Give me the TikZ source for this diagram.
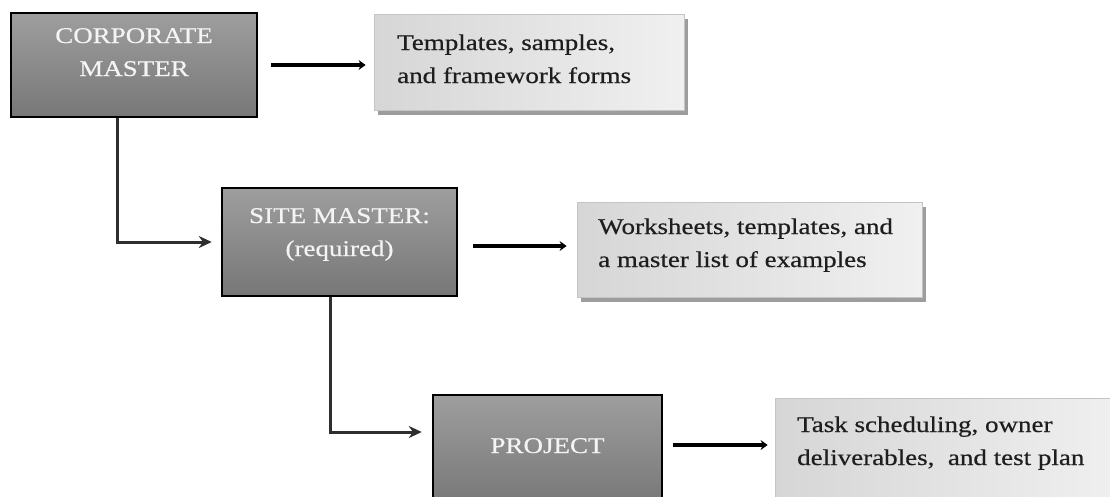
\documentclass[tikz,border=0pt]{standalone}
\usepackage{fontspec}
\setmainfont{Liberation Serif}[FakeStretch=1.2, FakeBold=0.5]
\usetikzlibrary{arrows.meta,shadows}

\definecolor{masterTop}{HTML}{9E9E9E}
\definecolor{masterBottom}{HTML}{777777}
\definecolor{masterInk}{HTML}{F4F4F4}
\definecolor{noteLeft}{HTML}{D6D6D6}
\definecolor{noteRight}{HTML}{F0F0F0}
\definecolor{noteEdge}{HTML}{C4C4C4}
\definecolor{noteInk}{HTML}{1E1E1E}
\definecolor{linkInk}{HTML}{2E2E2E}

\newcommand{\boxfont}{\fontsize{22.5}{33}\selectfont}

\tikzset{
  master/.style={draw=black, line width=2.5pt, top color=masterTop,
    bottom color=masterBottom, inner sep=0pt},
  note/.style={draw=noteEdge, line width=0.8pt, left color=noteLeft,
    right color=noteRight, inner sep=0pt,
    drop shadow={shadow xshift=4pt, shadow yshift=-5pt, fill=black!45, opacity=0.85}},
  mastertext/.style={text=masterInk, align=center, inner sep=0pt, font=\boxfont},
  notetext/.style={text=noteInk, align=left, inner sep=0pt, font=\boxfont},
  feed/.style={line width=4.5pt, -{Stealth[length=7pt, width=10pt]}},
  link/.style={line width=3pt, draw=linkInk, -{Stealth[length=13pt, width=12pt]}},
}

\begin{document}
\begin{tikzpicture}[x=1pt, y=-1pt]
  \useasboundingbox (0,0) rectangle (1110,496);
  \clip (0,0) rectangle (1110,496);

  % detail notes, drawn first so their shadows sit underneath
  \node[note, minimum width=310pt, minimum height=96pt]  (note1) at (529,62) {};
  \node[note, minimum width=345pt, minimum height=95pt]  (note2) at (749.5,249.5) {};
  \node[note, minimum width=350pt, minimum height=117pt] (note3) at (950,456.5) {};

  % master levels
  \node[master, minimum width=246pt, minimum height=104pt] (corp) at (134,65) {};
  \node[master, minimum width=235pt, minimum height=108pt] (site) at (339.5,242) {};
  \node[master, minimum width=229pt, minimum height=110pt] (proj) at (547.5,450) {};

  % labels (base anchor sits on the last line)
  \node[mastertext, anchor=base] (corp-t) at (134,76)    {CORPORATE\\MASTER};
  \node[mastertext, anchor=base] (site-t) at (339.5,256) {SITE MASTER:\\(required)};
  \node[mastertext, anchor=base] (proj-t) at (547.5,453) {PROJECT};

  \node[notetext, anchor=base west] (note1-t) at (397,83)  {Templates, samples,\\and framework forms};
  \node[notetext, anchor=base west] (note2-t) at (598,267) {Worksheets, templates, and\\a master list of examples};
  \node[notetext, anchor=base west] (note3-t) at (797,465) {Task scheduling, owner\\deliverables, \ and test plan};

  % each level to its documents
  \draw[feed] ([xshift=13pt]corp.east) -- ([xshift=-8pt]corp.east -| note1.west);
  \draw[feed] ([xshift=15pt, yshift=-4pt]site.east) -- ([xshift=-10pt, yshift=-4pt]site.east -| note2.west);
  \draw[feed] ([xshift=10pt, yshift=5pt]proj.east) -- ([xshift=-7pt, yshift=5pt]proj.east -| note3.west);

  % hierarchy links
  \draw[link] ([xshift=-17pt]corp.south) |- ([xshift=-9pt]site.west);
  \draw[link] ([xshift=-9.5pt]site.south) |- ([xshift=-10pt, yshift=18pt]proj.west);
\end{tikzpicture}
\end{document}
